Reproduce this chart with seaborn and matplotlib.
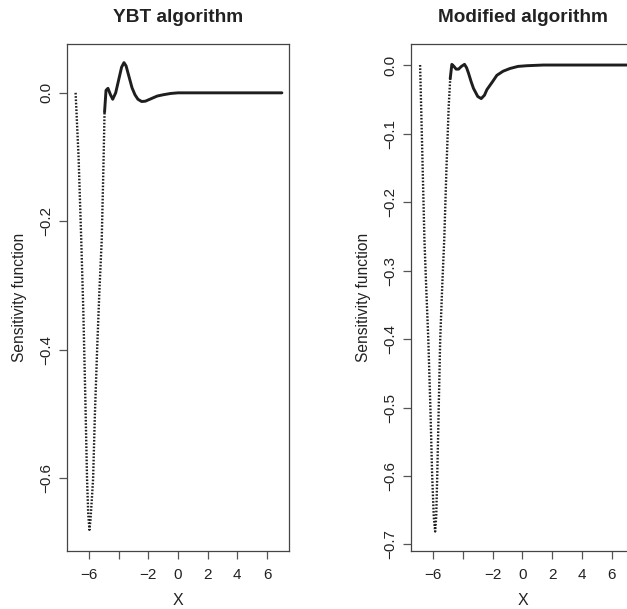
import pandas as pd
import matplotlib
matplotlib.use("Agg")
import matplotlib.pyplot as plt
import seaborn as sns

# YBT algorithm curve
ybt_x = [-6.9, -6.7, -6.52, -6.38, -6.25, -6.13, -6.05, -5.97, -5.9, -5.8, -5.72,
         -5.6, -5.45, -5.3, -5.14, -5.03, -4.95, -4.85, -4.72, -4.55, -4.4, -4.2,
         -4.0, -3.8, -3.64, -3.5, -3.3, -3.1, -2.9, -2.7, -2.45, -2.2, -1.8, -1.4,
         -1.0, -0.5, 0.0, 1.0, 2.0, 3.0, 4.0, 5.0, 6.0, 7.0]
ybt_y = [0.0, -0.1, -0.229, -0.34, -0.47, -0.6, -0.655, -0.68, -0.665, -0.63, -0.6,
         -0.5, -0.4, -0.31, -0.229, -0.12, -0.03, 0.004, 0.007, -0.003, -0.01, 0.0,
         0.02, 0.04, 0.047, 0.042, 0.025, 0.008, -0.003, -0.01, -0.0135, -0.013, -0.009, -0.005,
         -0.003, -0.001, 0.0, 0.0, 0.0, 0.0, 0.0, 0.0, 0.0, 0.0]

# Modified algorithm curve
mod_x = [-6.87, -6.72, -6.58, -6.45, -6.32, -6.18, -6.06, -5.95, -5.86, -5.79, -5.72,
         -5.62, -5.52, -5.38, -5.25, -5.1, -4.95, -4.85, -4.74, -4.6, -4.45, -4.29,
         -4.1, -3.89, -3.75, -3.62, -3.45, -3.29, -3.0, -2.77, -2.55, -2.39, -2.0,
         -1.72, -1.3, -0.83, -0.3, 0.3, 1.4, 3.0, 5.0, 7.0]
mod_y = [0.0, -0.13, -0.255, -0.33, -0.4, -0.5, -0.6, -0.66, -0.681, -0.66, -0.6,
         -0.5, -0.4, -0.32, -0.255, -0.15, -0.06, -0.02, 0.001, -0.002, -0.006, -0.006,
         -0.002, 0.001, -0.004, -0.012, -0.024, -0.034, -0.046, -0.049, -0.044, -0.036, -0.024,
         -0.015, -0.009, -0.005, -0.002, -0.001, 0.0, 0.0, 0.0, 0.0]

x_ticks = [-6, -4, -2, 0, 2, 4, 6]
x_tick_labels = ["\u22126", "", "\u22122", "0", "2", "4", "6"]
ybt_yticks = [0.0, -0.2, -0.4, -0.6]
mod_yticks = [0.0, -0.1, -0.2, -0.3, -0.4, -0.5, -0.6, -0.7]

sns.set_style("ticks")
plt.rcParams['font.family'] = ['Liberation Sans', 'DejaVu Sans']
plt.rcParams['axes.unicode_minus'] = True

fig = plt.figure(figsize=(6.27, 6.09), dpi=100)
W, H = 627, 609
ax1 = fig.add_axes([67 / W, 1 - 551 / H, 222 / W, 507 / H])
ax2 = fig.add_axes([411 / W, 1 - 551 / H, 223 / W, 507 / H])

line_col = "#1e1e1e"


def draw(ax, xs, ys, x_break, title, yticks, ylim):
    df = pd.DataFrame({"x": xs, "y": ys})
    steep = df[df["x"] <= x_break]
    flat = df[df["x"] >= x_break]
    sns.lineplot(data=steep, x="x", y="y", ax=ax, color=line_col, lw=1.7,
                 linestyle=(0, (0.7, 0.7)), sort=False, estimator=None)
    sns.lineplot(data=flat, x="x", y="y", ax=ax, color=line_col, lw=2.1,
                 sort=False, estimator=None)
    ax.set_xlim(-7.48, 7.48)
    ax.set_ylim(*ylim)
    ax.set_xticks(x_ticks)
    ax.set_xticklabels(x_tick_labels)
    ax.set_yticks(yticks)
    ax.set_yticklabels([f"{t:.1f}".replace("-", "\u2212") for t in yticks])
    plt.setp(ax.get_yticklabels(), rotation=90, va="center")
    ax.tick_params(axis="both", direction="out", length=6, width=0.9,
                   color="#555555", labelsize=11, labelcolor="#222222", pad=4)
    ax.tick_params(axis="x", pad=6)
    for s in ax.spines.values():
        s.set_visible(True)
        s.set_color("#444444")
        s.set_linewidth(0.9)
    ax.set_xlabel("X", fontsize=11.5, color="#222222", labelpad=8)
    ax.set_ylabel("Sensitivity function", fontsize=11.2, color="#222222", labelpad=9)
    ax.set_title(title, fontsize=13.7, fontweight="bold", color="#222222", pad=16)


draw(ax1, ybt_x, ybt_y, -4.95, "YBT algorithm", ybt_yticks, (-0.713, 0.076))
draw(ax2, mod_x, mod_y, -4.85, "Modified algorithm", mod_yticks, (-0.7095, 0.0307))

fig.savefig("out.png", dpi=100)
